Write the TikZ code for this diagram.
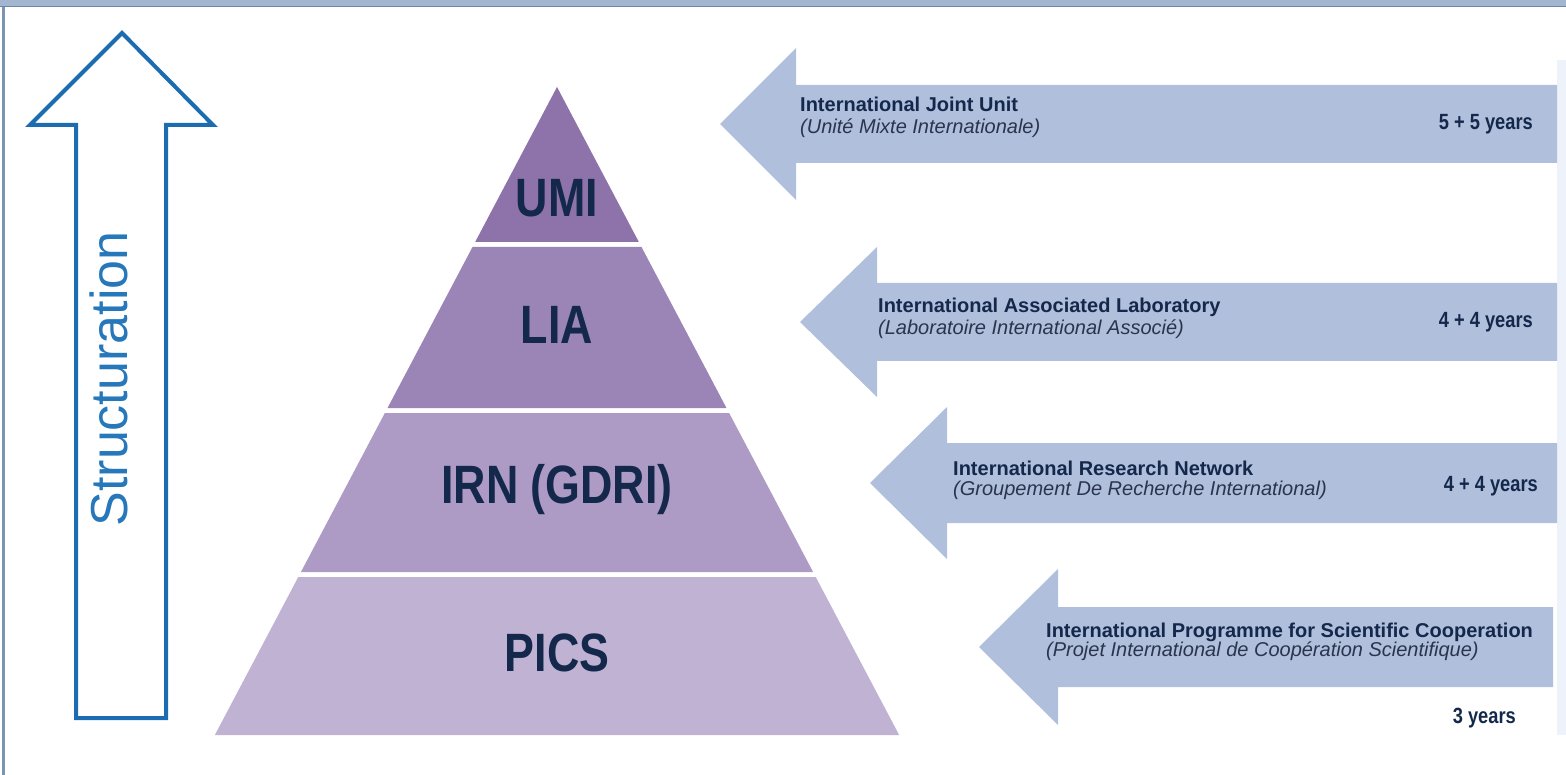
\documentclass[tikz,border=0pt]{standalone}
\usepackage{fontspec}
\setmainfont{Liberation Sans}
\newfontfamily\narrowfont[FakeStretch=0.83]{Liberation Sans}
\usepackage{xcolor}
\usepackage{tikz}
\def\width{1566}
\def\hauteur{775}
\def\apexx{557}
\def\apexy{87}
\def\pente{0.528}
\definecolor{cadre}{RGB}{162,182,207}
\definecolor{cadrefonce}{RGB}{106,134,168}
\definecolor{bordbleu}{RGB}{125,149,181}
\definecolor{bandeclair}{RGB}{238,242,250}
\definecolor{bleufleche}{RGB}{28,108,178}
\definecolor{bleutexte}{RGB}{38,120,186}
\definecolor{umicol}{RGB}{142,114,170}
\definecolor{liacol}{RGB}{155,133,182}
\definecolor{irncol}{RGB}{173,155,197}
\definecolor{picscol}{RGB}{192,178,211}
\definecolor{marine}{RGB}{20,40,75}
\definecolor{encre}{RGB}{42,52,78}
\definecolor{flechecol}{RGB}{175,191,220}

\begin{document}
\begin{tikzpicture}[x=1pt, y=-1pt,
    niveau/.style={text=marine, font=\narrowfont\bfseries\fontsize{54}{54}\selectfont},
    titre/.style={anchor=base west, inner sep=0pt, text=marine, font=\bfseries\fontsize{20}{21}\selectfont},
    soustitre/.style={anchor=base west, inner sep=0pt, text=encre, font=\itshape\fontsize{20}{21}\selectfont},
    duree/.style={anchor=base east, inner sep=0pt, text=marine, font=\narrowfont\bfseries\fontsize{22}{22}\selectfont}]
\useasboundingbox (0,0) rectangle (\width,\hauteur);
%\draw[step=50, line width=0.2pt, black!30!white] (0,0) grid (\width,\hauteur);
% cadre
\fill[cadre] (0,0) rectangle (\width,7);
\draw[cadrefonce, line width=1.5pt] (0,6.5) -- (\width,6.5);
\fill[bordbleu] (2,7) rectangle (4.5,\hauteur);
\fill[bandeclair] (1557,60) rectangle (\width,735);
% fleche Structuration
    \coordinate (s0) at (76,718);
    \coordinate (s1) at (76,125);
    \coordinate (s2) at (30,125);
    \coordinate (s3) at (122,33);
    \coordinate (s4) at (213,125);
    \coordinate (s5) at (166,125);
    \coordinate (s6) at (166,718);
\draw[bleufleche, line width=4pt, line join=miter] (s0) -- (s1) -- (s2) -- (s3) -- (s4) -- (s5) -- (s6) -- cycle;
\node (struct) [rotate=90, text=bleutexte, font=\fontsize{52}{52}\selectfont] at (109,379) {Structuration};
% pyramide
\foreach \haut/\bas/\col/\ly/\nom/\lab in {87/242/umicol/198/umi/UMI, 247/408/liacol/325/lia/LIA, 413/572/irncol/490/irn/IRN (GDRI), 577/735/picscol/653/pics/PICS}
{
    \fill[\col] ({\apexx-(\haut-\apexy)*\pente},\haut) -- ({\apexx+(\haut-\apexy)*\pente},\haut)
        -- ({\apexx+(\bas-\apexy)*\pente},\bas) -- ({\apexx-(\bas-\apexy)*\pente},\bas) -- cycle;
    \node (\nom) [niveau] at (\apexx,\ly) {\lab};
}
% fleches de droite
\foreach \nom/\tx/\ty/\rx/\dh/\ds/\lg in {f1/720/124/1557/76/39/76, f2/800/322/1557/75/39/77, f3/870/483/1557/76/40/77, f4/979/647/1553/78/40/79}
{
    \coordinate (\nom) at (\tx,\ty);
    \fill[flechecol] (\nom) -- ++(\lg,-\dh) -- ++(0,\dh-\ds) -- (\rx,{\ty-\ds})
        -- (\rx,{\ty+\ds}) -- ({\tx+\lg},{\ty+\ds}) -- ++(0,\dh-\ds) -- cycle;
}
\node (t1) [titre] at (800,112) {International Joint Unit};
\node (u1) [soustitre] at (800,134) {(Unité Mixte Internationale)};
\node (d1) [duree] at (1533,130) {5 + 5 years};
\node (t2) [titre] at (878,313) {International Associated Laboratory};
\node (u2) [soustitre] at (878,335) {(Laboratoire International Associé)};
\node (d2) [duree] at (1533,328) {4 + 4 years};
\node (t3) [titre] at (953,475) {International Research Network};
\node (u3) [soustitre] at (953,495) {(Groupement De Recherche International)};
\node (d3) [duree] at (1538,491) {4 + 4 years};
\node (t4) [titre] at (1046,637) {International Programme for Scientific Cooperation};
\node (u4) [soustitre] at (1046,656) {(Projet International de Coopération Scientifique)};
\node (d4) [duree] at (1516,723) {3 years};
\end{tikzpicture}
\end{document}
